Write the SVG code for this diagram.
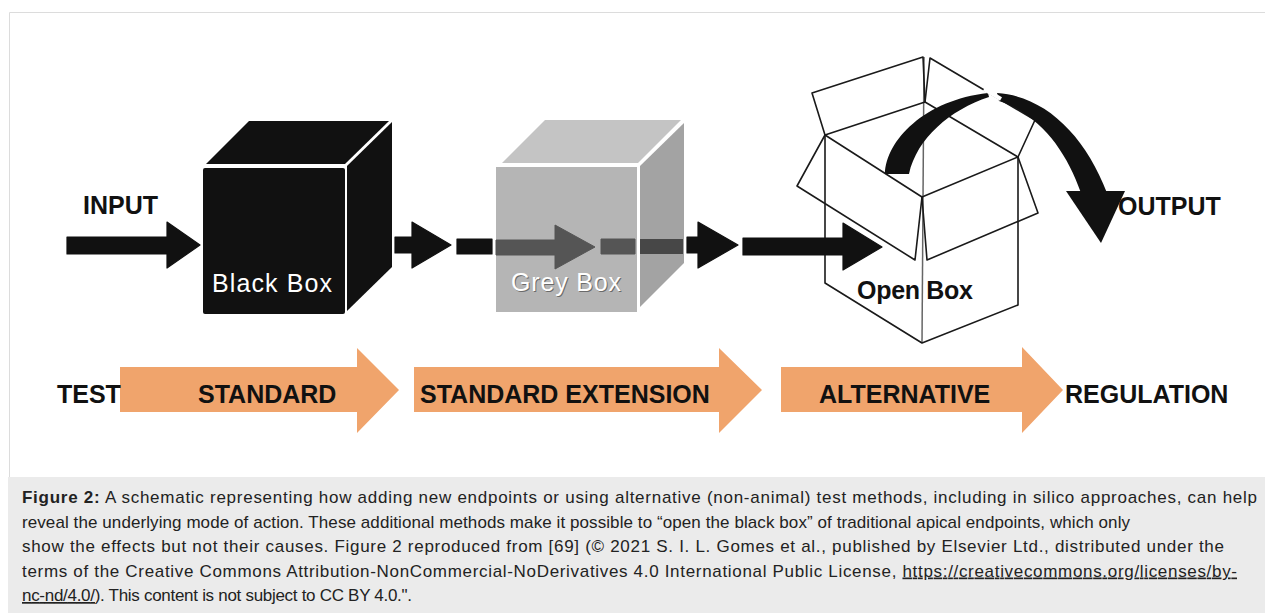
<svg xmlns="http://www.w3.org/2000/svg" width="1265" height="613" viewBox="0 0 1265 613">
<style>
  .lbl{font-family:"Liberation Sans",Arial,sans-serif;font-weight:bold;font-size:25px;fill:#111}
  .boxlbl{font-family:"Liberation Sans",Arial,sans-serif;font-size:25px;fill:#fff}
  .cap{font-family:"Liberation Sans",Arial,sans-serif;font-size:17px;fill:#222}
  .blk{fill:#111;stroke:#111;stroke-width:1.2;stroke-linejoin:round}
  .dk{fill:#555;stroke:#555;stroke-width:1;stroke-linejoin:round}
  .stage{fill:#f0a46c}
  .edge{fill:none;stroke:#1a1a1a;stroke-width:1.6;stroke-linejoin:round;stroke-linecap:round}
  .seam{fill:none;stroke:#666;stroke-width:1.5}
  .u{text-decoration:underline}
</style>

<!-- page frame and caption panel -->
<rect width="1265" height="613" fill="#fff"/>
<path d="M9.5,477 V12.5 H1265" fill="none" stroke="#dcdcdc"/>
<rect x="8" y="477" width="1257" height="136" fill="#ebebeb"/>

<!-- black box -->
<g id="black-box">
  <polygon points="206,164 249,121 389,121 345,164" fill="#111"/>
  <polygon points="347,166 392,122 392,267 347,311" fill="#111"/>
  <rect x="203" y="168" width="142" height="146" rx="2" fill="#111"/>
  <text x="212" y="292" class="boxlbl" textLength="120">Black Box</text>
</g>

<!-- grey box -->
<g id="grey-box">
  <polygon points="502,163 545,120 681,120 638,163" fill="#c4c4c4"/>
  <polygon points="640,166 684,123 684,263 640,307" fill="#a3a3a3"/>
  <rect x="496" y="167" width="141" height="145" fill="#b5b5b5"/>
</g>

<!-- open box -->
<g id="open-box">
  <line class="seam" x1="924" y1="57" x2="922" y2="343"/>
  <path class="edge" d="M825,135 V283 L922,343 L1018,305 V157"/>
  <path class="edge" d="M825,135 L925,102 L1018,157 L922,197 Z"/>
  <path class="edge" d="M825,135 L812,93 L923,57 L925,102"/>
  <path class="edge" d="M925,102 L930,58 L1035,120 L1018,157"/>
  <path class="edge" d="M825,135 L797,186 L915,260 L922,197"/>
  <path class="edge" d="M1018,157 L1038,213 L927,260 L922,197"/>
  <text x="857" y="299" class="lbl" font-size="24" textLength="116">Open Box</text>
</g>

<!-- flow arrows -->
<g id="connectors">
  <path class="blk" d="M67,237 H167 V222 L200,245 L167,268 V254 H67 Z"/>
  <path class="blk" d="M395,237 H412 V222 L451,245 L412,268 V253 H395 Z"/>
  <rect class="blk" x="457" y="239" width="35" height="15"/>
  <path class="dk" d="M496,240 H555 V225 L595,247 L555,269 V255 H496 Z"/>
  <rect class="dk" x="601" y="239" width="34" height="15"/>
  <rect x="640" y="239" width="43" height="15" fill="#474747"/>
  <path class="blk" d="M687,237 H698 V222 L738,245 L698,268 V253 H687 Z"/>
  <path class="blk" d="M743,238 H843 V223 L882,247 L843,270 V255 H743 Z"/>
  <!-- curved output arrow -->
  <path fill="#111" d="M885,174 C886,140 925,100 988,93 L989,97 C950,110 917,138 909,174 Z"/>
  <path fill="#111" d="M997,93 C1045,96 1085,135 1107,193 L1081,193 C1066,150 1040,115 999,101 Z"/>
  <path fill="#111" d="M1066,191 L1125,191 L1101,243 Z"/>
  <line x1="984" y1="89" x2="1001" y2="99" stroke="#fff" stroke-width="4"/>
</g>

<!-- grey box label sits over the arrow -->
<g id="grey-box-label">
  <text x="512" y="292" class="boxlbl" style="fill:#6a6a6a" textLength="110">Grey Box</text>
  <text x="511" y="291" class="boxlbl" textLength="110">Grey Box</text>
</g>

<g id="io-labels">
  <text x="83" y="214" class="lbl">INPUT</text>
  <text x="1118" y="215" class="lbl">OUTPUT</text>
</g>

<!-- test stages -->
<g id="stages">
  <polygon class="stage" points="120,367 357,367 357,348 399,390 357,433 357,412 120,412"/>
  <polygon class="stage" points="414,367 719,367 719,348 762,390 719,433 719,412 414,412"/>
  <polygon class="stage" points="781,367 1022,367 1022,347 1063,390 1022,433 1022,412 781,412"/>
  <text x="57" y="403" class="lbl">TEST</text>
  <text x="198" y="403" class="lbl">STANDARD</text>
  <text x="420" y="403" class="lbl">STANDARD EXTENSION</text>
  <text x="819" y="403" class="lbl">ALTERNATIVE</text>
  <text x="1065" y="403" class="lbl">REGULATION</text>
</g>

<!-- caption -->
<g id="caption" class="cap">
  <text x="22" y="503" textLength="1235"><tspan font-weight="bold">Figure 2:</tspan> A schematic representing how adding new endpoints or using alternative (non-animal) test methods, including in silico approaches, can help</text>
  <text x="22" y="527.5" textLength="1108">reveal the underlying mode of action. These additional methods make it possible to “open the black box” of traditional apical endpoints, which only</text>
  <text x="22" y="552" textLength="1202">show the effects but not their causes. Figure 2 reproduced from [69] (© 2021 S. I. L. Gomes et al., published by Elsevier Ltd., distributed under the</text>
  <text x="22" y="576.5" textLength="1215">terms of the Creative Commons Attribution-NonCommercial-NoDerivatives 4.0 International Public License, <tspan class="u">https://creativecommons.org/licenses/by-</tspan></text>
  <text x="22" y="601" textLength="390"><tspan class="u">nc-nd/4.0/</tspan>). This content is not subject to CC BY 4.0.".</text>
</g>
</svg>
